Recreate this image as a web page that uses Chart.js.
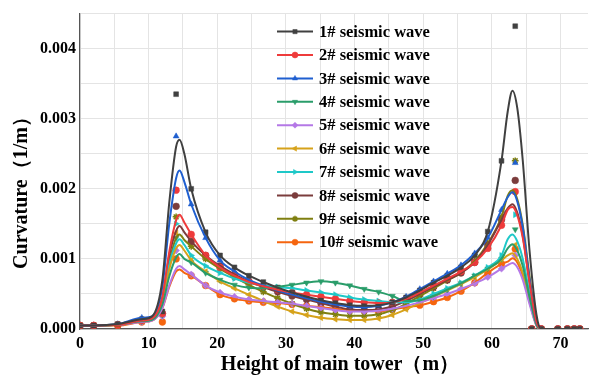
<!DOCTYPE html>
<html>
<head>
<meta charset="utf-8">
<script src="https://cdn.jsdelivr.net/npm/chart.js@4.4.1/dist/chart.umd.min.js"></script>
<style>
  body { margin: 0; background: #fff; }
  canvas { display: block; }
</style>
</head>
<body>
<canvas id="myChart" width="595" height="376"></canvas>
<script>
// heights (m) where the markers sit
const heights = [0, 2, 5.5, 9, 12, 14, 16.2, 18.3, 20.4, 22.5, 24.6, 26.7, 28.8, 30.9, 33, 35.1, 37.2, 39.3,
  41.4, 43.5, 45.5, 47.5, 49.5, 51.5, 53.5, 55.5, 57.5, 59.4, 61.4, 63.4, 65.8, 67.2, 69.6, 71, 72, 72.8];
// extra heights for the fitted curve around the two peaks
const curveLeftX = [10.5, 12, 13, 14, 14.5, 15.2];
const curveRightX = [62.3, 63, 63.7, 64.5, 65.5, 66.5];

// curvature, in 1e-3 1/m
const wave1  = [0.05,0.05,0.07,0.14,0.25,3.35,2.00,1.38,1.05,0.88,0.76,0.67,0.59,0.52,0.46,0.41,0.37,0.34,0.33,0.34,0.38,0.45,0.55,0.66,0.76,0.88,1.05,1.39,2.40,4.32,0,0,0,0,0,0];
const wave2  = [0.05,0.05,0.06,0.12,0.22,1.98,1.35,1.05,0.88,0.76,0.67,0.61,0.56,0.52,0.49,0.46,0.43,0.40,0.38,0.37,0.38,0.43,0.52,0.62,0.72,0.82,0.95,1.15,1.48,1.96,0,0,0,0,0,0];
const wave3  = [0.05,0.05,0.07,0.16,0.24,2.75,1.78,1.30,0.98,0.82,0.70,0.62,0.55,0.49,0.44,0.39,0.35,0.32,0.31,0.33,0.38,0.46,0.57,0.68,0.79,0.91,1.08,1.30,1.70,2.37,0,0,0,0,0,0];
const wave4  = [0.05,0.05,0.06,0.11,0.20,1.30,0.95,0.80,0.70,0.63,0.59,0.58,0.60,0.63,0.66,0.68,0.66,0.62,0.57,0.53,0.47,0.40,0.41,0.47,0.56,0.65,0.76,0.86,1.00,1.42,0,0,0,0,0,0];
const wave5  = [0.05,0.05,0.06,0.10,0.18,1.12,0.78,0.62,0.52,0.46,0.42,0.40,0.38,0.36,0.33,0.30,0.27,0.25,0.25,0.26,0.29,0.33,0.38,0.44,0.50,0.57,0.65,0.74,0.86,1.05,0,0,0,0,0,0];
const wave6  = [0.05,0.05,0.06,0.11,0.20,1.37,0.98,0.82,0.68,0.58,0.49,0.40,0.32,0.25,0.20,0.16,0.14,0.13,0.13,0.15,0.20,0.28,0.37,0.46,0.55,0.64,0.74,0.85,0.98,1.20,0,0,0,0,0,0];
const wave7  = [0.05,0.05,0.06,0.12,0.21,1.50,1.05,0.90,0.80,0.72,0.66,0.62,0.60,0.58,0.55,0.52,0.49,0.45,0.42,0.40,0.38,0.38,0.42,0.50,0.58,0.66,0.76,0.88,1.05,1.63,0,0,0,0,0,0];
const wave8  = [0.05,0.05,0.06,0.12,0.22,1.75,1.25,1.05,0.90,0.78,0.68,0.60,0.53,0.47,0.42,0.37,0.32,0.28,0.27,0.28,0.32,0.40,0.50,0.60,0.70,0.80,0.95,1.20,1.56,2.12,0,0,0,0,0,0];
const wave9  = [0.05,0.05,0.06,0.12,0.21,1.60,1.18,1.00,0.86,0.74,0.63,0.53,0.44,0.36,0.29,0.24,0.21,0.19,0.19,0.21,0.27,0.36,0.47,0.58,0.69,0.80,0.97,1.22,1.60,2.40,0,0,0,0,0,0];
const wave10 = [0.05,0.05,0.05,0.10,0.10,1.00,0.76,0.62,0.49,0.43,0.40,0.38,0.37,0.35,0.33,0.31,0.29,0.27,0.26,0.25,0.28,0.31,0.34,0.39,0.45,0.54,0.66,0.80,0.93,1.14,0,0,0,0,0,0];

// fitted curve values at curveLeftX / curveRightX
const fitLeft = [
  [0.18, 0.70, 1.80, 2.60, 2.70, 2.50],
  [0.15, 0.45, 1.10, 1.55, 1.63, 1.52],
  [0.18, 0.60, 1.50, 2.15, 2.26, 2.10],
  [0.13, 0.35, 0.75, 1.02, 1.07, 1.00],
  [0.12, 0.30, 0.62, 0.86, 0.90, 0.85],
  [0.13, 0.38, 0.85, 1.15, 1.20, 1.12],
  [0.14, 0.42, 0.92, 1.22, 1.28, 1.20],
  [0.15, 0.45, 1.05, 1.40, 1.47, 1.38],
  [0.14, 0.42, 0.95, 1.30, 1.35, 1.27],
  [0.12, 0.30, 0.60, 0.82, 0.85, 0.80]
];
const fitRight = [
  [3.10, 3.40, 3.15, 2.40, 1.10, 0.20],
  [1.70, 1.74, 1.62, 1.30, 0.65, 0.10],
  [1.88, 1.95, 1.82, 1.45, 0.70, 0.10],
  [1.15, 1.21, 1.12, 0.90, 0.45, 0.06],
  [0.91, 0.94, 0.88, 0.70, 0.35, 0.05],
  [1.05, 1.08, 1.00, 0.80, 0.40, 0.05],
  [1.28, 1.35, 1.25, 1.00, 0.50, 0.07],
  [1.72, 1.78, 1.66, 1.33, 0.66, 0.10],
  [1.90, 1.98, 1.85, 1.48, 0.74, 0.10],
  [0.96, 1.01, 0.95, 0.76, 0.38, 0.05]
];

const waves = [wave1, wave2, wave3, wave4, wave5, wave6, wave7, wave8, wave9, wave10];
const names = ['1# seismic wave', '2# seismic wave', '3# seismic wave', '4# seismic wave', '5# seismic wave',
  '6# seismic wave', '7# seismic wave', '8# seismic wave', '9# seismic wave', '10# seismic wave'];
const colors = ['#404040', '#ee3b3b', '#1f5fd0', '#2a9d6a', '#b478e6', '#d6a21a', '#1ec8c8', '#7b3c3c', '#7f7f10', '#f5650f'];
const styles = ['rect', 'circle', 'triangle', 'triangle', 'rectRot', 'triangle', 'triangle', 'circle', 'star', 'circle'];
const rotations = [0, 0, 0, 180, 0, -90, 90, 0, 0, 0];

const xTitle = 'Height of main tower（m）';
const yTitle = 'Curvature（1/m）';

const FONT = '"Liberation Serif", "Times New Roman", serif';

function curvePoints(i) {
  const pts = [];
  const w = waves[i];
  for (let k = 0; k <= 3; k++) pts.push({ x: heights[k], y: w[k] / 1000 });
  curveLeftX.forEach((x, k) => pts.push({ x: x, y: fitLeft[i][k] / 1000 }));
  for (let k = 6; k <= 28; k++) pts.push({ x: heights[k], y: w[k] / 1000 });
  curveRightX.forEach((x, k) => pts.push({ x: x, y: fitRight[i][k] / 1000 }));
  for (let k = 31; k < heights.length; k++) pts.push({ x: heights[k], y: w[k] / 1000 });
  return pts;
}

const datasets = [];
waves.forEach((w, i) => {
  datasets.push({
    label: names[i],
    data: curvePoints(i),
    showLine: true,
    borderColor: colors[i],
    borderWidth: 2,
    pointRadius: 0,
    cubicInterpolationMode: 'monotone'
  });
});
waves.forEach((w, i) => {
  datasets.push({
    label: names[i] + ' pts',
    data: w.map((v, k) => ({ x: heights[k], y: v / 1000 })),
    showLine: false,
    pointStyle: styles[i],
    rotation: rotations[i],
    pointRadius: 3.4,
    pointBackgroundColor: colors[i],
    pointBorderColor: colors[i],
    pointBorderWidth: styles[i] === 'star' ? 1.5 : 0.5
  });
});

const waveLegend = {
  id: 'waveLegend',
  afterDraw(chart) {
    const ctx = chart.ctx;
    const a = chart.chartArea;
    ctx.save();
    ctx.font = 'bold 16.5px ' + FONT;
    ctx.textBaseline = 'middle';
    ctx.textAlign = 'left';
    names.forEach((n, i) => {
      const y = a.top + 18 + i * 23.4;
      const x0 = a.left + 197;
      ctx.strokeStyle = colors[i];
      ctx.fillStyle = colors[i];
      ctx.lineWidth = 2;
      ctx.beginPath();
      ctx.moveTo(x0, y);
      ctx.lineTo(x0 + 36, y);
      ctx.stroke();
      ctx.lineWidth = styles[i] === 'star' ? 1.5 : 0.5;
      Chart.helpers.drawPoint(ctx, { pointStyle: styles[i], rotation: rotations[i], radius: 3, borderWidth: ctx.lineWidth }, x0 + 18, y);
      ctx.fillStyle = '#000';
      ctx.fillText(n, x0 + 42, y + 1);
    });

    // axis titles
    ctx.font = 'bold 20px ' + FONT;
    ctx.textAlign = 'center';
    ctx.fillText(xTitle, 340, 365);
    ctx.translate(22, 188);
    ctx.rotate(-Math.PI / 2);
    ctx.fillText(yTitle, 0, 0);
    ctx.restore();
  }
};

new Chart(document.getElementById('myChart'), {
  type: 'scatter',
  data: { datasets: datasets },
  options: {
    responsive: false,
    animation: false,
    devicePixelRatio: 1,
    layout: { padding: { top: 8, right: 7, left: 0, bottom: 0 } },
    plugins: { legend: { display: false }, tooltip: { enabled: false } },
    scales: {
      x: {
        type: 'linear',
        min: 0,
        max: 74,
        afterFit: (s) => { s.height = 47; },
        grid: { color: '#e4e4e4', drawTicks: false },
        border: { color: '#555', width: 1.2 },
        ticks: {
          stepSize: 5,
          padding: 5,
          autoSkip: false,
          includeBounds: false,
          color: '#000',
          font: { family: FONT, size: 16, weight: 'bold' },
          maxRotation: 0,
          callback: (v) => (v % 10 === 0 ? v : '')
        }
      },
      y: {
        min: 0,
        max: 0.0045,
        afterFit: (s) => { s.width = 80; },
        grid: { color: '#e4e4e4', drawTicks: false },
        border: { color: '#555', width: 1.2 },
        ticks: {
          stepSize: 0.0005,
          padding: 4,
          autoSkip: false,
          color: '#000',
          font: { family: FONT, size: 16, weight: 'bold' },
          callback: (v) => {
            const m = v * 1000;
            return Math.abs(m - Math.round(m)) < 1e-6 ? (Math.round(m) / 1000).toFixed(3) : '';
          }
        }
      }
    }
  },
  plugins: [waveLegend]
});
</script>
</body>
</html>
